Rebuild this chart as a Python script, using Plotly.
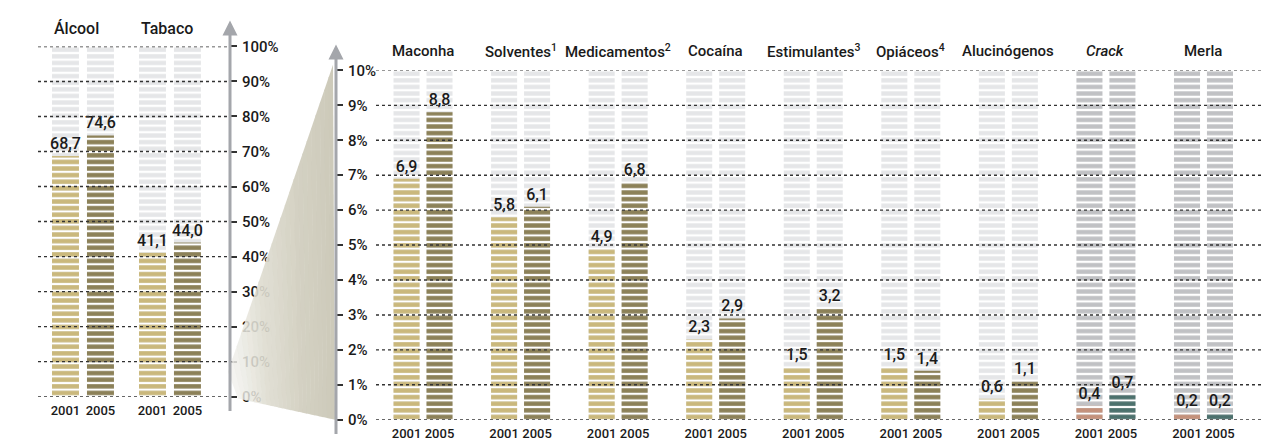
import plotly.graph_objects as go

# ---------------- data ----------------
left_categories = ["Álcool", "Tabaco"]
left_2001 = [68.7, 41.1]
left_2005 = [74.6, 44.0]
left_ticks = [0, 10, 20, 30, 40, 50, 60, 70, 80, 90, 100]

right_categories = ["Maconha", "Solventes<sup>1</sup>", "Medicamentos<sup>2</sup>", "Cocaína",
                    "Estimulantes<sup>3</sup>", "Opiáceos<sup>4</sup>", "Alucinógenos",
                    "<i>Crack</i>", "Merla"]
right_2001 = [6.9, 5.8, 4.9, 2.3, 1.5, 1.5, 0.6, 0.4, 0.2]
right_2005 = [8.8, 6.1, 6.8, 2.9, 3.2, 1.4, 1.1, 0.7, 0.2]
right_ticks = [0, 1, 2, 3, 4, 5, 6, 7, 8, 9, 10]

years = ["2001", "2005"]

# ---------------- styles ----------------
TAN = "#cab87c"
OLIVE = "#8c8158"
SALMON = "#c4917b"
TEAL = "#4c716d"
BG = "#e5e6e8"
BG_DARK = "#c0c1c4"
INK = "#1a1a1a"
FONT = "Roboto, Liberation Sans, sans-serif"
W, H = 1263, 446

right_2001_colors = [TAN] * 7 + [SALMON] * 2
right_2005_colors = [OLIVE] * 7 + [TEAL] * 2
right_bg_colors = [BG] * 7 + [BG_DARK] * 2


def px(p):
    return p / W


def py(p):
    return 1 - p / H


def fmt(v):
    return f"{v:.1f}".replace(".", ",")


fig = go.Figure()


def striped(x, y, offset, width, colors, xa, ya, text=None):
    fig.add_trace(go.Bar(
        x=x, y=y, offset=offset, width=width, xaxis=xa, yaxis=ya,
        marker=dict(color=colors, line=dict(width=0),
                    pattern=dict(shape="-", fgcolor=colors, bgcolor="white",
                                 size=6.6, solidity=0.66, fillmode="replace")),
        text=text, textposition="outside" if text else "none",
        outsidetextfont=dict(family=FONT, size=16, color=INK, weight=500),
        constraintext="none", cliponaxis=False,
        hoverinfo="skip", showlegend=False,
    ))


# left panel geometry (data units)
LW, LD = 0.31, 0.201
lx = list(range(len(left_categories)))
striped(lx, [left_ticks[-1]] * len(lx), -LD - LW / 2, LW, [BG] * len(lx), "x", "y")
striped(lx, [left_ticks[-1]] * len(lx), LD - LW / 2, LW, [BG] * len(lx), "x", "y")
striped(lx, left_2001, -LD - LW / 2, LW, [TAN] * len(lx), "x", "y", [fmt(v) for v in left_2001])
striped(lx, left_2005, LD - LW / 2, LW, [OLIVE] * len(lx), "x", "y", [fmt(v) for v in left_2005])

# right panel geometry
RW, RD = 0.267, 0.169
rx = list(range(len(right_categories)))
striped(rx, [right_ticks[-1]] * len(rx), -RD - RW / 2, RW, right_bg_colors, "x2", "y2")
striped(rx, [right_ticks[-1]] * len(rx), RD - RW / 2, RW, right_bg_colors, "x2", "y2")
striped(rx, right_2001, -RD - RW / 2, RW, right_2001_colors, "x2", "y2", [fmt(v) for v in right_2001])
striped(rx, right_2005, RD - RW / 2, RW, right_2005_colors, "x2", "y2", [fmt(v) for v in right_2005])

left_year_pos = [i + d for i in lx for d in (-LD, LD)]
right_year_pos = [i + d for i in rx for d in (-RD, RD)]

axis_common = dict(showgrid=False, zeroline=False, showline=False, fixedrange=True)

fig.update_layout(
    width=W, height=H,
    margin=dict(l=0, r=0, t=0, b=0),
    paper_bgcolor="white", plot_bgcolor="rgba(0,0,0,0)",
    barmode="overlay",
    font=dict(family=FONT, color=INK),
    xaxis=dict(domain=[px(38), px(230)], range=[-0.517, 1.69], anchor="y",
               tickvals=left_year_pos, ticktext=years * len(lx), ticks="", tickangle=0,
               tickfont=dict(size=13, weight=500), ticklabelstandoff=4, **axis_common),
    yaxis=dict(domain=[py(404), py(39)], range=[left_ticks[0], left_ticks[-1]], anchor="x",
               side="right", tickvals=left_ticks, ticktext=[f"{t}%" for t in left_ticks],
               ticks="outside", ticklen=6, tickwidth=2, tickcolor="#333",
               tickfont=dict(size=15, weight=500), ticklabelstandoff=2, **axis_common),
    xaxis2=dict(domain=[px(336), 1], range=[-0.892, 8.61], anchor="y2",
                tickvals=right_year_pos, ticktext=years * len(rx), ticks="", tickangle=0,
                tickfont=dict(size=13, weight=500), ticklabelstandoff=4, **axis_common),
    yaxis2=dict(domain=[py(428), py(64)], range=[right_ticks[0], right_ticks[-1]],
                anchor="free", position=px(336),
                side="right", tickvals=right_ticks,
                ticktext=[f"{t}%" for t in right_ticks],
                ticks="outside", ticklen=6, tickwidth=2, tickcolor="#333",
                tickfont=dict(size=15, weight=500), ticklabelstandoff=2, **axis_common),
)

# dotted grid lines (above bars)
for t in left_ticks:
    fig.add_shape(type="line", xref="x domain", yref="y", x0=0, x1=0.985, y0=t, y1=t,
                  line=dict(color="#333333", width=1.4, dash="dot"), layer="above")
for t in right_ticks:
    fig.add_shape(type="line", xref="x2 domain", yref="y2", x0=(376 - 336) / (W - 336), x1=1,
                  y0=t, y1=t, line=dict(color="#333333", width=1.4, dash="dot"), layer="above")

# zoom wedge connecting the two scales, shaded in vertical slices (light -> darker)
top_a, top_b = (228, 378), (333, 58)
bot_a, bot_b = (238, 406), (335, 428)
shade = [(0.0, (242, 242, 238, 0.80)), (0.3, (222, 220, 208, 0.90)),
         (0.65, (210, 207, 192, 0.95)), (1.0, (203, 200, 184, 0.97))]


def lerp(a, b, t):
    return a + (b - a) * t


def shade_at(t):
    for (t0, c0), (t1, c1) in zip(shade[:-1], shade[1:]):
        if t0 <= t <= t1:
            u = (t - t0) / (t1 - t0)
            return tuple(lerp(c0[k], c1[k], u) for k in range(4))
    return shade[-1][1]


n_slices = 24
for s in range(n_slices):
    t0, t1 = s / n_slices, (s + 1) / n_slices
    t1e = min(1.0, t1 + 0.004)
    pts = [
        (lerp(top_a[0], top_b[0], t0), lerp(top_a[1], top_b[1], t0)),
        (lerp(top_a[0], top_b[0], t1e), lerp(top_a[1], top_b[1], t1e)),
        (lerp(bot_a[0], bot_b[0], t1e), lerp(bot_a[1], bot_b[1], t1e)),
        (lerp(bot_a[0], bot_b[0], t0), lerp(bot_a[1], bot_b[1], t0)),
    ]
    r, g, b, a = shade_at((t0 + t1) / 2)
    path = "M " + " L ".join(f"{px(p):.5f},{py(q):.5f}" for p, q in pts) + " Z"
    fig.add_shape(type="path", xref="paper", yref="paper", path=path,
                  fillcolor=f"rgba({r:.0f},{g:.0f},{b:.0f},{a:.2f})",
                  line=dict(width=0), layer="above")

# axis arrows
for xpix, ytip, ytail in [(230, 12, 404), (336, 37, 428)]:
    fig.add_annotation(x=px(xpix), y=py(ytip), xref="paper", yref="paper", text="",
                       showarrow=True, ax=0, ay=ytail - ytip, axref="pixel", ayref="pixel",
                       arrowhead=2, arrowsize=1.0, arrowwidth=3, arrowcolor="#a4a6ab", standoff=0)

# category headers
for i, name in enumerate(left_categories):
    fig.add_annotation(x=i - LD - LW / 2, y=py(20), xref="x", yref="paper", text=name,
                       showarrow=False, xanchor="left", yanchor="middle",
                       font=dict(family=FONT, size=16, color=INK, weight=500))
for i, name in enumerate(right_categories):
    fig.add_annotation(x=i, y=py(44), xref="x2", yref="paper", text=name,
                       showarrow=False, xanchor="center", yanchor="middle",
                       font=dict(family=FONT, size=15, color=INK, weight=500))

fig.write_html("out.html", include_plotlyjs=True, config={"displayModeBar": False},
               post_script="document.body.style.margin='0';")
